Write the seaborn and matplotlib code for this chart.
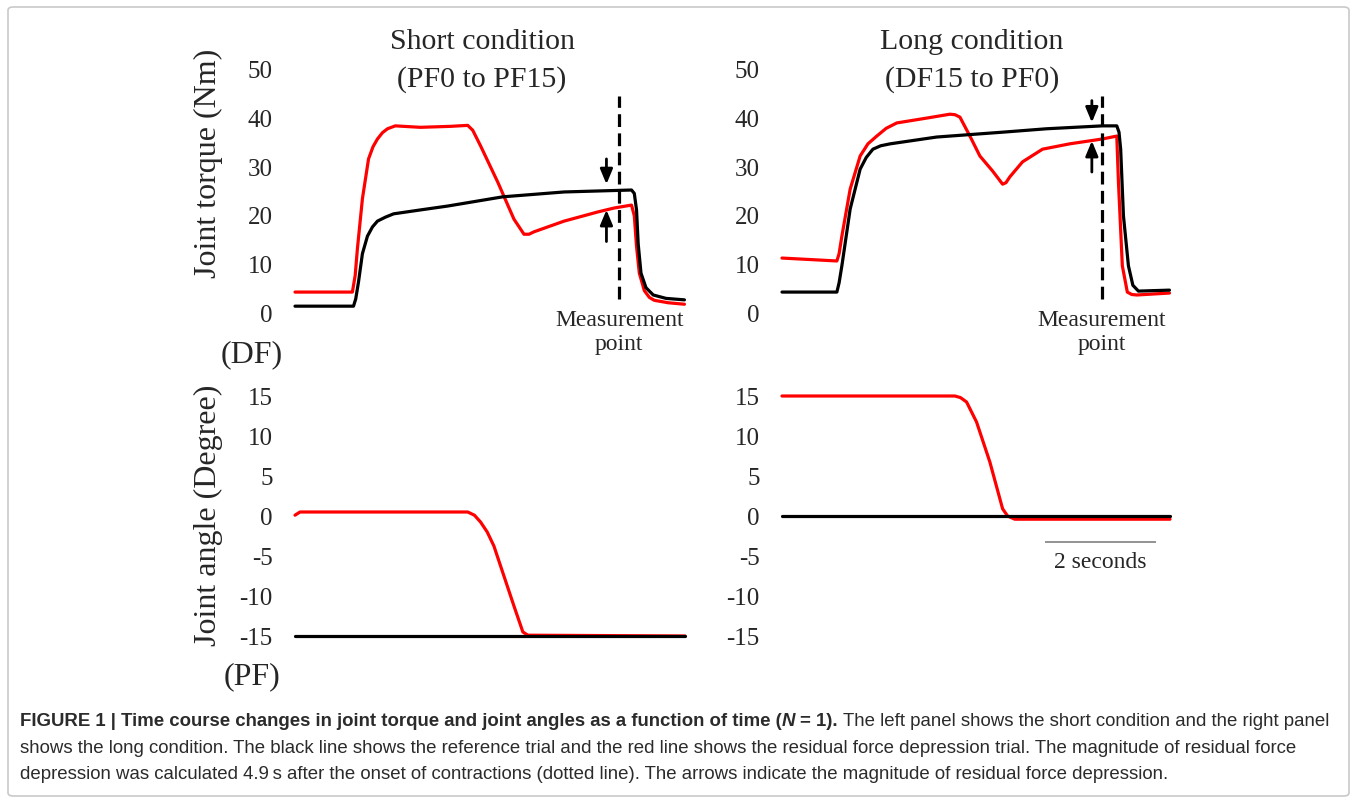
import matplotlib
matplotlib.use("Agg")
import matplotlib.pyplot as plt
import seaborn as sns
import numpy as np
from matplotlib.patches import FancyBboxPatch

# ---------------- data ----------------
# time in seconds
short_red_t = [0.00, 1.03, 1.08, 1.12, 1.21, 1.32, 1.40, 1.48, 1.57, 1.66, 1.80, 2.25, 2.79, 3.10, 3.19,
               3.33, 3.64, 3.93, 4.11, 4.20, 4.29, 4.83, 5.44, 5.73, 6.04, 6.09, 6.13, 6.18, 6.27, 6.36,
               6.45, 6.70, 6.99]
short_red_torque = [4.1, 4.1, 7.5, 13.0, 23.3, 31.5, 34.0, 35.6, 36.9, 37.7, 38.3, 38.0, 38.2, 38.4, 37.4,
                    34.2, 26.7, 19.1, 16.0, 16.0, 16.5, 18.7, 20.6, 21.4, 22.0, 19.8, 13.5, 8.0, 4.4, 3.0,
                    2.4, 1.9, 1.6]
short_black_t = [0.00, 1.05, 1.09, 1.14, 1.21, 1.30, 1.39, 1.48, 1.62, 1.77, 2.25, 2.74, 3.73, 4.83, 6.04,
                 6.09, 6.13, 6.16, 6.21, 6.30, 6.43, 6.66, 6.99]
short_black_torque = [1.2, 1.2, 2.7, 6.2, 12.0, 15.6, 17.5, 18.7, 19.5, 20.2, 21.0, 21.8, 23.7, 24.7, 25.1,
                      24.4, 21.0, 14.0, 8.0, 5.0, 3.5, 2.8, 2.5]

long_red_t = [0.00, 0.99, 1.03, 1.08, 1.23, 1.41, 1.55, 1.71, 1.88, 2.07, 2.61, 3.03, 3.12, 3.21, 3.39,
              3.57, 3.80, 3.98, 4.04, 4.11, 4.34, 4.70, 5.19, 5.78, 6.04, 6.07, 6.14, 6.23, 6.31, 6.40,
              6.99]
long_red_torque = [11.1, 10.5, 12.0, 15.6, 25.3, 32.1, 34.6, 36.2, 37.8, 38.9, 39.9, 40.7, 40.6, 40.1, 36.2,
                   32.1, 29.0, 26.3, 26.6, 27.8, 30.9, 33.5, 34.6, 35.6, 36.2, 26.7, 9.5, 4.1, 3.6, 3.5,
                   3.9]
long_black_t = [0.00, 0.99, 1.03, 1.08, 1.23, 1.41, 1.52, 1.64, 1.78, 1.95, 2.79, 3.98, 4.77, 5.78, 6.04,
                6.08, 6.11, 6.16, 6.25, 6.33, 6.43, 6.99]
long_black_torque = [4.1, 4.1, 6.0, 9.5, 21.2, 29.4, 31.8, 33.5, 34.2, 34.6, 36.0, 37.0, 37.7, 38.3, 38.3,
                     37.0, 33.5, 19.8, 9.5, 5.5, 4.3, 4.5]

short_red_angle_t = [0.00, 0.09, 3.10, 3.22, 3.33, 3.45, 3.57, 3.93, 4.09, 4.18, 7.00]
short_red_angle = [0.1, 0.5, 0.5, 0.1, -0.75, -2.0, -3.75, -11.25, -14.5, -14.9, -15.0]
short_black_angle_t = [0.00, 7.00]
short_black_angle = [-15.0, -15.0]

long_red_angle_t = [0.00, 3.12, 3.22, 3.33, 3.51, 3.75, 3.98, 4.07, 4.20, 7.00]
long_red_angle = [15.0, 15.0, 14.8, 14.25, 11.75, 6.75, 0.9, 0.0, -0.4, -0.4]
long_black_angle_t = [0.00, 7.00]
long_black_angle = [0.0, 0.0]

torque_ticks = [0, 10, 20, 30, 40, 50]
angle_ticks = [-15, -10, -5, 0, 5, 10, 15]

measure_t = [5.82, 5.77]            # dashed measurement line (short, long)
arrow_t = [5.59, 5.59]
down_arrow = [(31.5, 26.3), (43.5, 39.0)]   # (start, end) torque
up_arrow = [(14.5, 21.0), (28.8, 35.2)]
dash_range = (2.7, 44.4)
scale_bar = (4.74, 2.0)   # start time, length (s)

titles = [("Short condition", "(PF0 to PF15)"), ("Long condition", "(DF15 to PF0)")]

caption_runs_line1 = [
    ("FIGURE 1 | Time course changes in joint torque and joint angles as a function of time (", "bold", "normal"),
    ("N", "bold", "italic"),
    (" = 1).", "bold", "normal"),
    (" The left panel shows the short condition and the right panel", "normal", "normal"),
]
caption_line2 = ("shows the long condition. The black line shows the reference trial and the red line shows "
                 "the residual force depression trial. The magnitude of residual force")
caption_line3 = ("depression was calculated 4.9\u2009s after the onset of contractions (dotted line). "
                 "The arrows indicate the magnitude of residual force depression.")

# ---------------- style ----------------
sns.set_theme(style="white")
SERIF = ["Liberation Serif", "DejaVu Serif"]
SANS_N = ["Liberation Sans Narrow", "Liberation Sans", "DejaVu Sans"]
plt.rcParams["font.family"] = SERIF

W, H = 1357, 804
fig = plt.figure(figsize=(W / 100, H / 100), dpi=100)
fig.patch.set_facecolor("white")


def fx(px):
    return px / W


def fy(py):
    return 1 - py / H


RED = "#ff0000"
LW = 2.3

# axes rectangles (pixels: left, right, top, bottom)
rects = {
    "tl": (295, 685, 70, 313),
    "tr": (782, 1170, 70, 313),
    "bl": (295, 685, 397, 637),
    "br": (782, 1170, 397, 637),
}
axes = {}
for k, (l, r, t, b) in rects.items():
    axes[k] = fig.add_axes([fx(l), fy(b), fx(r - l), (b - t) / H])

torque_data = [
    (axes["tl"], short_red_t, short_red_torque, short_black_t, short_black_torque),
    (axes["tr"], long_red_t, long_red_torque, long_black_t, long_black_torque),
]
angle_data = [
    (axes["bl"], short_red_angle_t, short_red_angle, short_black_angle_t, short_black_angle),
    (axes["br"], long_red_angle_t, long_red_angle, long_black_angle_t, long_black_angle),
]

for ax, rt, rv, bt, bv in torque_data + angle_data:
    sns.lineplot(x=rt, y=rv, ax=ax, color=RED, lw=LW, estimator=None, sort=False)
    sns.lineplot(x=bt, y=bv, ax=ax, color="black", lw=LW, estimator=None, sort=False)
    for ln in ax.get_lines():
        ln.set_clip_on(False)
        ln.set_solid_joinstyle("round")
        ln.set_solid_capstyle("round")
    ax.set_xlim(0, 7.0)
    for s in ax.spines.values():
        s.set_visible(False)
    ax.set_xticks([])
    ax.tick_params(axis="y", length=0, pad=16, labelsize=18)
    ax.set_xlabel("")
    ax.set_ylabel("")
    ax.patch.set_alpha(0)

for ax, *_ in torque_data:
    ax.set_ylim(0, 50)
    ax.set_yticks(torque_ticks)
    ax.set_yticklabels([str(v) for v in torque_ticks], fontfamily=SERIF, fontsize=18)
for ax, *_ in angle_data:
    ax.set_ylim(-15, 15)
    ax.set_yticks(angle_ticks)
    ax.set_yticklabels([str(v) for v in angle_ticks], fontfamily=SERIF, fontsize=18)

# measurement lines, arrows and labels
for i, (ax, *_r) in enumerate(torque_data):
    ax.vlines(measure_t[i], dash_range[0], dash_range[1], colors="black", lw=2.3,
              linestyles=(0, (4.0, 2.0)), clip_on=False)
    for (y0, y1) in (down_arrow[i], up_arrow[i]):
        ax.annotate("", xy=(arrow_t[i], y1), xytext=(arrow_t[i], y0),
                    arrowprops=dict(arrowstyle="-|>,head_length=0.6,head_width=0.25", color="black",
                                    lw=2.0, mutation_scale=15, shrinkA=0, shrinkB=0),
                    annotation_clip=False)
    ax.text(measure_t[i], 0.6, "Measurement\npoint", ha="center", va="top", fontsize=17,
            family=SERIF, linespacing=1.2, clip_on=False)

# scale bar in long-condition angle panel
axb = axes["br"]
axb.plot([scale_bar[0], scale_bar[0] + scale_bar[1]], [-3.25, -3.25], color="#8a8a8a", lw=1.3,
         solid_capstyle="butt", clip_on=False)
axb.text(scale_bar[0] + scale_bar[1] / 2, -5.75, "2 seconds", ha="center", va="center",
         fontsize=17, family=SERIF)

# titles
for (t1, t2), cx in zip(titles, [482, 972]):
    fig.text(fx(cx), fy(42), t1, ha="center", va="center", fontsize=21.5, family=SERIF)
    fig.text(fx(cx), fy(80), t2, ha="center", va="center", fontsize=21.5, family=SERIF)

# y labels and direction hints
fig.text(fx(208), fy(163), "Joint torque (Nm)", rotation=90, ha="center", va="center",
         fontsize=23, family=SERIF)
fig.text(fx(208), fy(515), "Joint angle (Degree)", rotation=90, ha="center", va="center",
         fontsize=23, family=SERIF)
fig.text(fx(252), fy(355), "(DF)", ha="center", va="center", fontsize=23, family=SERIF)
fig.text(fx(252), fy(677), "(PF)", ha="center", va="center", fontsize=23, family=SERIF)

# frame
frame = FancyBboxPatch((fx(8), fy(797)), fx(1341), (797 - 8) / H,
                       boxstyle="round,pad=0,rounding_size=0.004", transform=fig.transFigure,
                       fill=False, ec="#c9c9c9", lw=1.2)
fig.patches.append(frame)

# caption
CAP_COLOR = "#2b2b2b"
fig.canvas.draw()
renderer = fig.canvas.get_renderer()


def draw_runs(runs, x0, y0, fs):
    x = x0
    arts = []
    for text, weight, style in runs:
        lead = len(text) - len(text.lstrip(" "))
        txt = text.strip(" ")
        if lead:
            x += fs * 100 / 72 * 0.26
        a = fig.text(fx(x), fy(y0), txt, ha="left", va="center", fontsize=fs, fontweight=weight,
                     fontstyle=style, family=SANS_N, color=CAP_COLOR)
        bb = a.get_window_extent(renderer)
        x += bb.width
        arts.append(a)
    return arts, x - x0


# pick font size so line 1 spans ~1310 px
fs = 12.0
arts, width = draw_runs(caption_runs_line1, 20, 722, fs)
for a in arts:
    a.remove()
fs = fs * 1310 / width
draw_runs(caption_runs_line1, 20, 722, fs)
fig.text(fx(20), fy(749), caption_line2, ha="left", va="center", fontsize=fs, family=SANS_N,
         color=CAP_COLOR)
fig.text(fx(20), fy(775), caption_line3, ha="left", va="center", fontsize=fs, family=SANS_N,
         color=CAP_COLOR)

fig.savefig("out.png", dpi=100, facecolor="white")
